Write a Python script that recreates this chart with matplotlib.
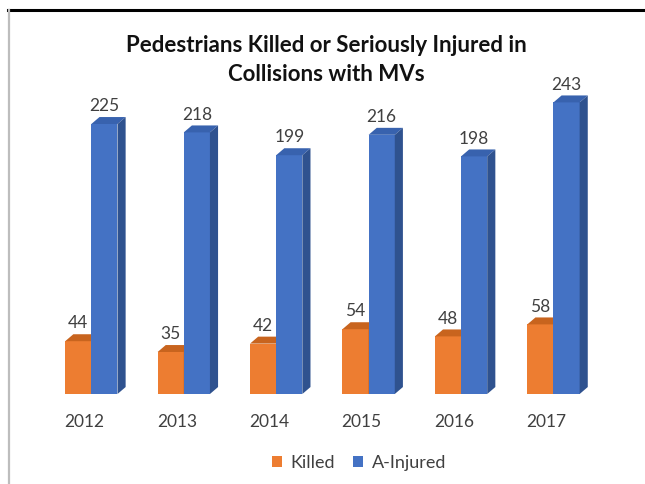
import numpy as np
import matplotlib.pyplot as plt
from matplotlib.patches import Polygon, Patch
from matplotlib.lines import Line2D

years = ['2012', '2013', '2014', '2015', '2016', '2017']
killed = [44, 35, 42, 54, 48, 58]
injured = [225, 218, 199, 216, 198, 243]

plt.rcParams['font.family'] = ['Lato', 'DejaVu Sans']

orange = '#ED7D31'
orange_top = '#C8641E'
orange_side = '#B85A1A'
blue = '#4472C4'
blue_top = '#3862AE'
blue_side = '#2F528F'

fig = plt.figure(figsize=(6.45, 4.84), dpi=100)
ax = fig.add_axes([17.4 / 645, 90 / 484, 598 / 645, 300 / 484])
ax.set_xlim(-0.8, 5.67)
ax.set_ylim(0, 250)
ax.axis('off')

w = 0.283   # bar width (data units)
dx = 0.088  # depth offset, x
dy = 5.8    # depth offset, y


def bar3d(x0, h, front, top, side):
    ax.bar(x0, h, width=w, align='edge', color=front, linewidth=0, zorder=2)
    ax.add_patch(Polygon([(x0, h), (x0 + w, h), (x0 + w + dx, h + dy), (x0 + dx, h + dy)],
                         closed=True, facecolor=top, edgecolor='none', zorder=2))
    ax.add_patch(Polygon([(x0 + w, 0), (x0 + w + dx, dy), (x0 + w + dx, h + dy), (x0 + w, h)],
                         closed=True, facecolor=side, edgecolor='none', zorder=2))
    ax.annotate(str(h), (x0 + w / 2, h + dy), xytext=(0, 2), textcoords='offset points',
                ha='center', va='bottom', fontsize=12.5, color='#404040')


for i in range(len(years)):
    bar3d(i - w, killed[i], orange, orange_top, orange_side)
    bar3d(i, injured[i], blue, blue_top, blue_side)
    ax.annotate(years[i], (i - 0.075, 0), xytext=(0, -20.5), textcoords='offset points',
                ha='center', va='center', fontsize=12.5, color='#404040', annotation_clip=False)

fig.text(326 / 645, 1 - 60 / 484, 'Pedestrians Killed or Seriously Injured in\nCollisions with MVs',
         ha='center', va='center', fontsize=16, fontweight='bold', color='#111111', linespacing=1.45)

handles = [Patch(facecolor=orange, label='Killed'), Patch(facecolor=blue, label='A-Injured')]
fig.legend(handles=handles, loc='center', bbox_to_anchor=(359 / 645, 1 - 463 / 484), ncol=2, frameon=False,
           fontsize=13, handlelength=0.55, handleheight=0.55, handletextpad=0.5, columnspacing=1.0,
           labelcolor='#404040')

# frame lines of the screenshot
fig.add_artist(Line2D([8 / 645, 1], [1 - 9.5 / 484] * 2, color='black', lw=2.2))
fig.add_artist(Line2D([8.5 / 645] * 2, [0, 1 - 9.5 / 484], color='#bdbdbd', lw=1.6))

fig.savefig('out.png', dpi=100)
